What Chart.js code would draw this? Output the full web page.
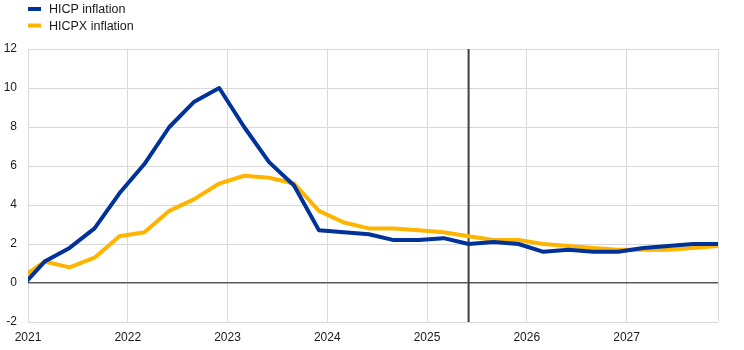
<!DOCTYPE html>
<html>
<head>
<meta charset="utf-8">
<script src="https://cdn.jsdelivr.net/npm/chart.js@4/dist/chart.umd.min.js"></script>
<style>
  html, body { margin: 0; padding: 0; background: #ffffff; }
  #wrap { width: 744px; height: 350px; position: relative; }
</style>
</head>
<body>
<div id="wrap"><canvas id="chart"></canvas></div>
<script>
// Quarterly observations and projections (annual % change)
const quarters = [
  '2020Q4',
  '2021Q1', '2021Q2', '2021Q3', '2021Q4',
  '2022Q1', '2022Q2', '2022Q3', '2022Q4',
  '2023Q1', '2023Q2', '2023Q3', '2023Q4',
  '2024Q1', '2024Q2', '2024Q3', '2024Q4',
  '2025Q1', '2025Q2', '2025Q3', '2025Q4',
  '2026Q1', '2026Q2', '2026Q3', '2026Q4',
  '2027Q1', '2027Q2', '2027Q3', '2027Q4'
];
const hicp = [
  -0.3,
  1.1, 1.8, 2.8, 4.6,
  6.1, 8.0, 9.3, 10.0,
  8.0, 6.2, 5.0, 2.7,
  2.6, 2.5, 2.2, 2.2,
  2.3, 2.0, 2.1, 2.0,
  1.6, 1.7, 1.6, 1.6,
  1.8, 1.9, 2.0, 2.0
];
const hicpx = [
  0.2,
  1.1, 0.8, 1.3, 2.4,
  2.6, 3.7, 4.3, 5.1,
  5.5, 5.4, 5.1, 3.7,
  3.1, 2.8, 2.8, 2.7,
  2.6, 2.4, 2.2, 2.2,
  2.0, 1.9, 1.8, 1.7,
  1.7, 1.7, 1.8, 1.9
];
const seriesNames = ['HICP inflation', 'HICPX inflation'];
const yearTicks = [2021, 2022, 2023, 2024, 2025, 2026, 2027];
const yTicks = [-2, 0, 2, 4, 6, 8, 10, 12];
const projectionStart = '2025Q2';
const axisStart = '2021-01';
const axisEnd = '2027-12';

// Each quarter is placed at the start of its last month
function quarterToX(q) {
  const year = parseInt(q.slice(0, 4), 10);
  const qi = parseInt(q.slice(5), 10);
  return year + (qi * 3 - 1) / 12;
}
function monthToX(m) {
  const [y, mo] = m.split('-').map(Number);
  return y + (mo - 1) / 12;
}

const BLUE = '#003299';
const YELLOW = '#ffb400';
const FONT = "'Liberation Sans', Arial, sans-serif";

const toPoints = vals => quarters.map((q, i) => ({ x: quarterToX(q), y: vals[i] }));

// Vertical marker at the start of the projection horizon
const markerPlugin = {
  id: 'marker',
  beforeDatasetsDraw(chart) {
    const { ctx, chartArea, scales } = chart;
    const x = scales.x.getPixelForValue(quarterToX(projectionStart));
    ctx.save();
    ctx.strokeStyle = '#404040';
    ctx.lineWidth = 2;
    ctx.beginPath();
    ctx.moveTo(x, chartArea.top);
    ctx.lineTo(x, chartArea.bottom);
    ctx.stroke();
    ctx.restore();
  }
};

// Stacked legend in the top-left corner
const stackedLegend = {
  id: 'stackedLegend',
  afterDraw(chart) {
    const { ctx } = chart;
    ctx.save();
    ctx.font = '12.5px ' + FONT;
    ctx.textBaseline = 'alphabetic';
    chart.data.datasets.forEach((ds, i) => {
      const top = 7 + i * 16.5;
      ctx.fillStyle = ds.borderColor;
      ctx.fillRect(28, top, 13, 4);
      ctx.fillStyle = '#1a1a1a';
      ctx.fillText(ds.label, 49, top + 6);
    });
    ctx.restore();
  }
};

new Chart(document.getElementById('chart'), {
  type: 'line',
  data: {
    datasets: [
      { label: seriesNames[0], data: toPoints(hicp), borderColor: BLUE, backgroundColor: BLUE },
      { label: seriesNames[1], data: toPoints(hicpx), borderColor: YELLOW, backgroundColor: YELLOW }
    ]
  },
  options: {
    responsive: true,
    maintainAspectRatio: false,
    animation: false,
    layout: { padding: { top: 49, right: 26, bottom: 0, left: 0 } },
    elements: {
      line: { borderWidth: 4, tension: 0, borderJoinStyle: 'round' },
      point: { radius: 0, hoverRadius: 0 }
    },
    plugins: {
      legend: { display: false },
      tooltip: { enabled: false }
    },
    scales: {
      x: {
        type: 'linear',
        min: monthToX(axisStart),
        max: monthToX(axisEnd),
        afterBuildTicks(axis) {
          axis.ticks = yearTicks.map(v => ({ value: v })).concat([{ value: axis.max }]);
        },
        afterFit(axis) { axis.height = 28; },
        ticks: {
          autoSkip: false,
          maxRotation: 0,
          padding: 8,
          color: '#1a1a1a',
          font: { family: FONT, size: 12 },
          callback: v => (Number.isInteger(v) ? String(v) : '')
        },
        grid: { color: '#d9d9d9', lineWidth: 1, drawTicks: false },
        border: { display: false }
      },
      y: {
        min: -2,
        max: 12,
        afterBuildTicks(axis) {
          axis.ticks = yTicks.map(v => ({ value: v }));
        },
        afterFit(axis) { axis.width = 28; },
        ticks: {
          padding: 11,
          color: '#1a1a1a',
          font: { family: FONT, size: 12 },
          callback: v => String(v)
        },
        grid: {
          drawTicks: false,
          color: c => (c.tick && c.tick.value === 0 ? '#595959' : '#d9d9d9'),
          lineWidth: c => (c.tick && c.tick.value === 0 ? 1.5 : 1)
        },
        border: { display: false }
      }
    }
  },
  plugins: [markerPlugin, stackedLegend]
});
</script>
</body>
</html>
